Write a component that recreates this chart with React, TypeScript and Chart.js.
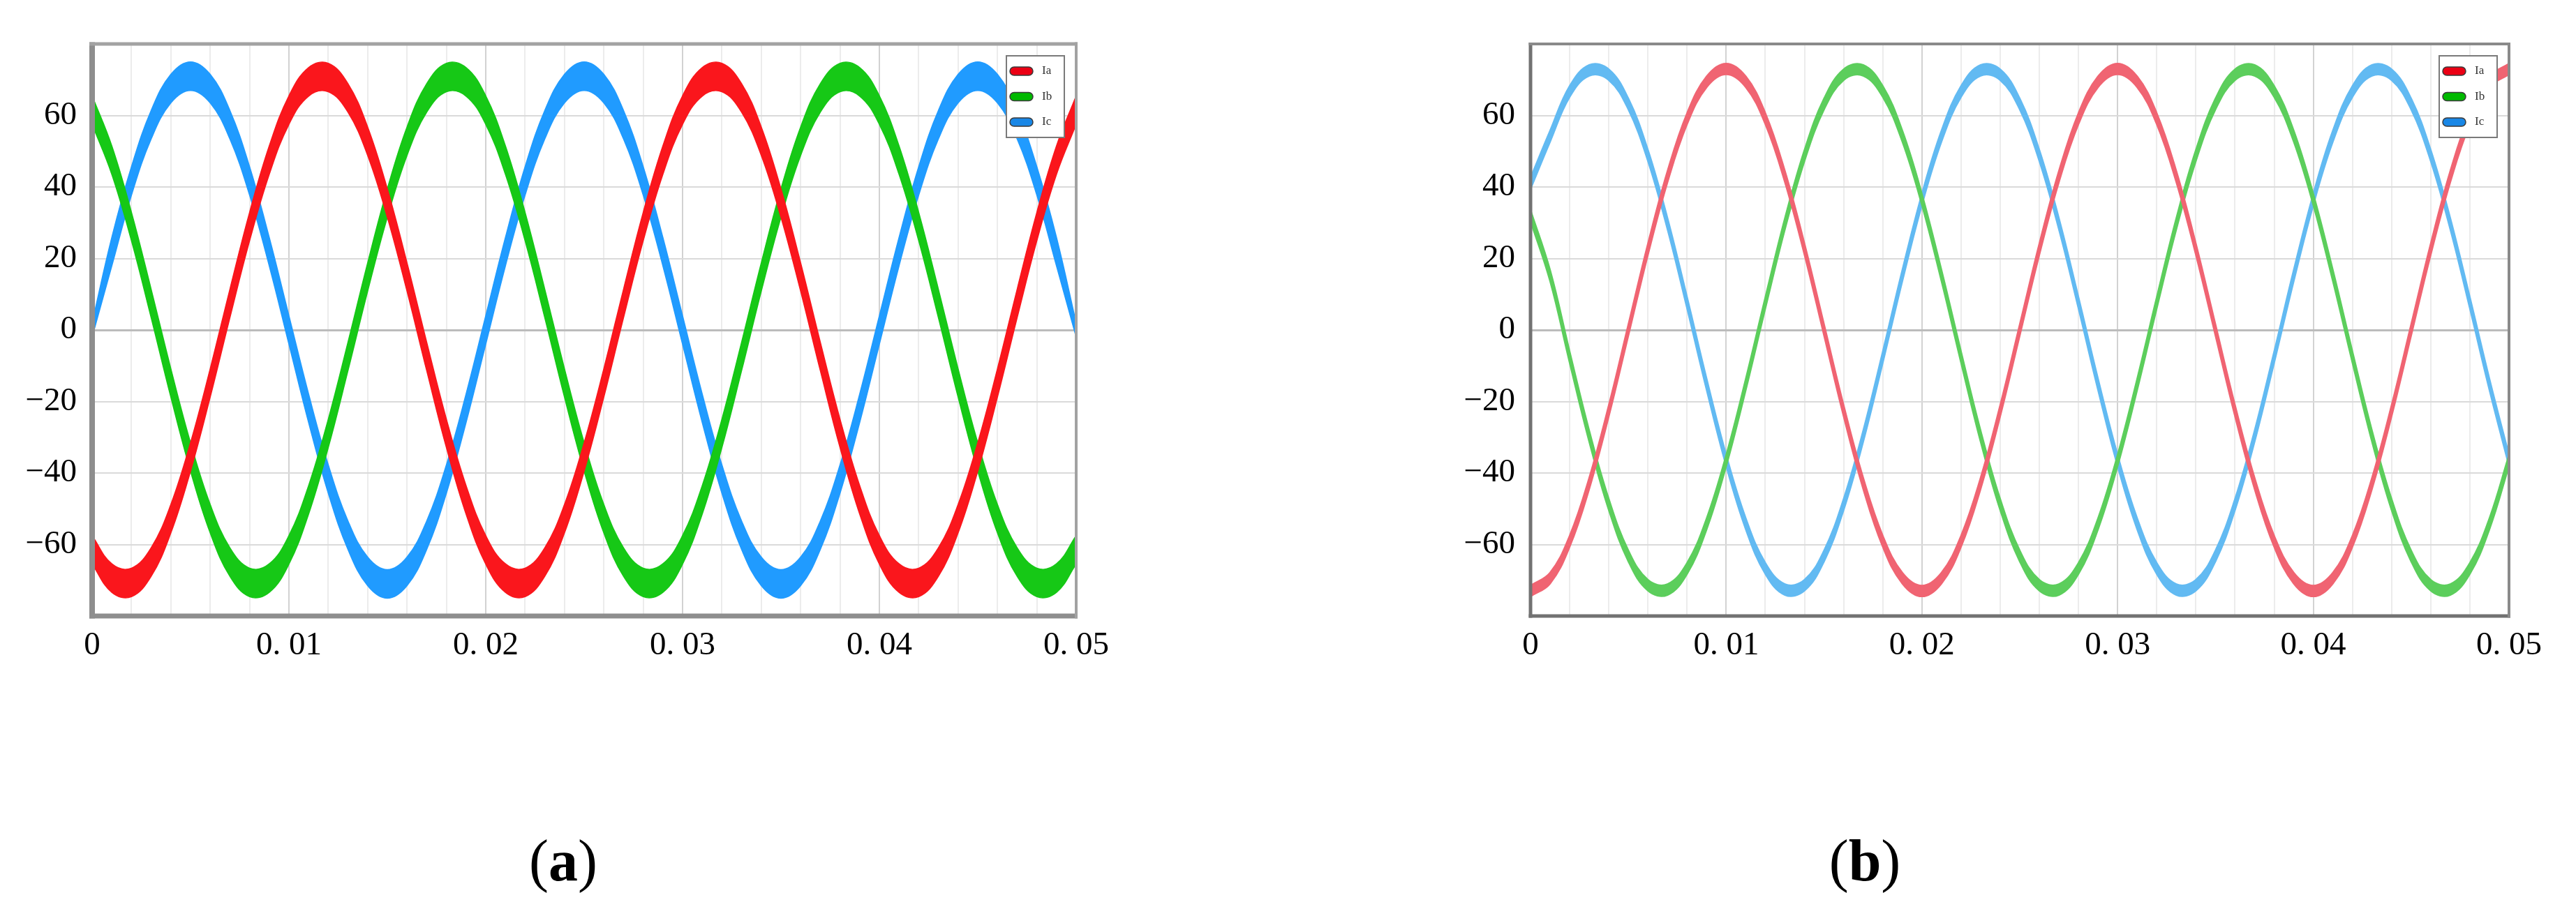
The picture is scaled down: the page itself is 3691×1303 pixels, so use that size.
import React, { useEffect, useRef } from 'react';
import { Chart, registerables } from 'chart.js';

Chart.register(...registerables);

// ---------- data ----------
const TIME = [
  0, 0.001, 0.002, 0.003, 0.004, 0.005, 0.006, 0.007, 0.008, 0.009,
  0.01, 0.011, 0.012, 0.013, 0.014, 0.015, 0.016, 0.017, 0.018, 0.019,
  0.02, 0.021, 0.022, 0.023, 0.024, 0.025, 0.026, 0.027, 0.028, 0.029,
  0.03, 0.031, 0.032, 0.033, 0.034, 0.035, 0.036, 0.037, 0.038, 0.039,
  0.04, 0.041, 0.042, 0.043, 0.044, 0.045, 0.046, 0.047, 0.048, 0.049,
  0.05,
];

const SERIES_LABELS = ['Ia', 'Ib', 'Ic'];
const X_TICK_LABELS = ['0', '0. 01', '0. 02', '0. 03', '0. 04', '0. 05'];
const Y_TICK_VALUES = [-60, -40, -20, 0, 20, 40, 60];
const Y_TICK_LABELS = ['\u221260', '\u221240', '\u221220', '0', '20', '40', '60'];
const CAPTIONS = ['a', 'b'];

// (a) ripple envelopes
const IA_A_UPPER = [
  -57.5, -65.4, -66.6, -60.9, -48.8, -31.5, -10.8, 11.4, 32.9, 51.5, 65.5, 73.4, 74.6, 68.9, 56.8, 39.5, 18.8, -3.4, -24.9, -43.5,
  -57.5, -65.4, -66.6, -60.9, -48.8, -31.5, -10.8, 11.4, 32.9, 51.5, 65.5, 73.4, 74.6, 68.9, 56.8, 39.5, 18.8, -3.4, -24.9, -43.5,
  -57.5, -65.4, -66.6, -60.9, -48.8, -31.5, -10.8, 11.4, 32.9, 51.5, 65.5,
];
const IA_A_LOWER = [
  -65.5, -73.4, -74.6, -68.9, -56.8, -39.5, -18.8, 3.4, 24.9, 43.5, 57.5, 65.4, 66.6, 60.9, 48.8, 31.5, 10.8, -11.4, -32.9, -51.5,
  -65.5, -73.4, -74.6, -68.9, -56.8, -39.5, -18.8, 3.4, 24.9, 43.5, 57.5, 65.4, 66.6, 60.9, 48.8, 31.5, 10.8, -11.4, -32.9, -51.5,
  -65.5, -73.4, -74.6, -68.9, -56.8, -39.5, -18.8, 3.4, 24.9, 43.5, 57.5,
];
const IB_A_UPPER = [
  65.5, 51.5, 32.9, 11.4, -10.8, -31.5, -48.8, -60.9, -66.6, -65.4, -57.5, -43.5, -24.9, -3.4, 18.8, 39.5, 56.8, 68.9, 74.6, 73.4,
  65.5, 51.5, 32.9, 11.4, -10.8, -31.5, -48.8, -60.9, -66.6, -65.4, -57.5, -43.5, -24.9, -3.4, 18.8, 39.5, 56.8, 68.9, 74.6, 73.4,
  65.5, 51.5, 32.9, 11.4, -10.8, -31.5, -48.8, -60.9, -66.6, -65.4, -57.5,
];
const IB_A_LOWER = [
  57.5, 43.5, 24.9, 3.4, -18.8, -39.5, -56.8, -68.9, -74.6, -73.4, -65.5, -51.5, -32.9, -11.4, 10.8, 31.5, 48.8, 60.9, 66.6, 65.4,
  57.5, 43.5, 24.9, 3.4, -18.8, -39.5, -56.8, -68.9, -74.6, -73.4, -65.5, -51.5, -32.9, -11.4, 10.8, 31.5, 48.8, 60.9, 66.6, 65.4,
  57.5, 43.5, 24.9, 3.4, -18.8, -39.5, -56.8, -68.9, -74.6, -73.4, -65.5,
];
const IC_A_UPPER = [
  2, 25.9, 45.7, 61.4, 71.5, 75, 71.5, 61.4, 45.7, 25.9, 4, -17.9, -37.7, -53.4, -63.5, -67, -63.5, -53.4, -37.7, -17.9,
  4, 25.9, 45.7, 61.4, 71.5, 75, 71.5, 61.4, 45.7, 25.9, 4, -17.9, -37.7, -53.4, -63.5, -67, -63.5, -53.4, -37.7, -17.9,
  4, 25.9, 45.7, 61.4, 71.5, 75, 71.5, 61.4, 45.7, 25.9, 2,
];
const IC_A_LOWER = [
  -2, 17.9, 37.7, 53.4, 63.5, 67, 63.5, 53.4, 37.7, 17.9, -4, -25.9, -45.7, -61.4, -71.5, -75, -71.5, -61.4, -45.7, -25.9,
  -4, 17.9, 37.7, 53.4, 63.5, 67, 63.5, 53.4, 37.7, 17.9, -4, -25.9, -45.7, -61.4, -71.5, -75, -71.5, -61.4, -45.7, -25.9,
  -4, 17.9, 37.7, 53.4, 63.5, 67, 63.5, 53.4, 37.7, 17.9, -2,
];

// (b) ripple envelopes
const IA_B_UPPER = [
  -71.5, -67.9, -57.6, -41.4, -21.1, 1.5, 24.1, 44.4, 60.6, 70.9, 74.5, 70.9, 60.6, 44.4, 24.1, 1.5, -21.1, -41.4, -57.6, -67.9,
  -71.5, -67.9, -57.6, -41.4, -21.1, 1.5, 24.1, 44.4, 60.6, 70.9, 74.5, 70.9, 60.6, 44.4, 24.1, 1.5, -21.1, -41.4, -57.6, -67.9,
  -71.5, -67.9, -57.6, -41.4, -21.1, 1.5, 24.1, 44.4, 60.6, 70.9, 74.5,
];
const IA_B_LOWER = [
  -74.5, -70.9, -60.6, -44.4, -24.1, -1.5, 21.1, 41.4, 57.6, 67.9, 71.5, 67.9, 57.6, 41.4, 21.1, -1.5, -24.1, -44.4, -60.6, -70.9,
  -74.5, -70.9, -60.6, -44.4, -24.1, -1.5, 21.1, 41.4, 57.6, 67.9, 71.5, 67.9, 57.6, 41.4, 21.1, -1.5, -24.1, -44.4, -60.6, -70.9,
  -74.5, -70.9, -60.6, -44.4, -24.1, -1.5, 21.1, 41.4, 57.6, 67.9, 71.5,
];
const IB_B_UPPER = [
  33.5, 16.7, -6.1, -28.2, -47.3, -61.7, -69.9, -71.1, -65.2, -52.7, -35, -13.7, 9.1, 31.2, 50.3, 64.7, 72.9, 74.1, 68.2, 55.7,
  38, 16.7, -6.1, -28.2, -47.3, -61.7, -69.9, -71.1, -65.2, -52.7, -35, -13.7, 9.1, 31.2, 50.3, 64.7, 72.9, 74.1, 68.2, 55.7,
  38, 16.7, -6.1, -28.2, -47.3, -61.7, -69.9, -71.1, -65.2, -52.7, -35,
];
const IB_B_LOWER = [
  30.5, 13.7, -9.1, -31.2, -50.3, -64.7, -72.9, -74.1, -68.2, -55.7, -38, -16.7, 6.1, 28.2, 47.3, 61.7, 69.9, 71.1, 65.2, 52.7,
  35, 13.7, -9.1, -31.2, -50.3, -64.7, -72.9, -74.1, -68.2, -55.7, -38, -16.7, 6.1, 28.2, 47.3, 61.7, 69.9, 71.1, 65.2, 52.7,
  35, 13.7, -9.1, -31.2, -50.3, -64.7, -72.9, -74.1, -68.2, -55.7, -38,
];
const IC_B_UPPER = [
  42.5, 55.7, 68.2, 74.1, 72.9, 64.7, 50.3, 31.2, 9.1, -13.7, -35, -52.7, -65.2, -71.1, -69.9, -61.7, -47.3, -28.2, -6.1, 16.7,
  38, 55.7, 68.2, 74.1, 72.9, 64.7, 50.3, 31.2, 9.1, -13.7, -35, -52.7, -65.2, -71.1, -69.9, -61.7, -47.3, -28.2, -6.1, 16.7,
  38, 55.7, 68.2, 74.1, 72.9, 64.7, 50.3, 31.2, 9.1, -13.7, -35,
];
const IC_B_LOWER = [
  39.5, 52.7, 65.2, 71.1, 69.9, 61.7, 47.3, 28.2, 6.1, -16.7, -38, -55.7, -68.2, -74.1, -72.9, -64.7, -50.3, -31.2, -9.1, 13.7,
  35, 52.7, 65.2, 71.1, 69.9, 61.7, 47.3, 28.2, 6.1, -16.7, -38, -55.7, -68.2, -74.1, -72.9, -64.7, -50.3, -31.2, -9.1, 13.7,
  35, 52.7, 65.2, 71.1, 69.9, 61.7, 47.3, 28.2, 6.1, -16.7, -38,
];

// ---------- styling ----------
const FONT = "'Liberation Serif', 'Times New Roman', serif";
const A_COLORS = ['rgb(250,22,28)', 'rgb(22,200,22)', 'rgb(32,155,255)'];
const B_COLORS = ['rgb(240,100,114)', 'rgb(92,206,92)', 'rgb(98,186,242)'];
const LEGEND_COLORS = ['rgb(235,0,20)', 'rgb(0,185,0)', 'rgb(25,135,230)'];

type Band = { label: string; upper: number[]; lower: number[]; color: string; legend: string };

const framePlugin = {
  id: 'frame',
  afterDraw(chart: any, _args: any, opts: any) {
    const { ctx, chartArea } = chart;
    const { left, right, top, bottom } = chartArea;
    ctx.save();
    ctx.fillStyle = opts.color;
    ctx.fillRect(left - opts.left / 2, top - opts.top / 2, opts.left, bottom - top + opts.top / 2 + opts.bottom / 2);
    ctx.fillRect(left - opts.left / 2, bottom - opts.bottom / 2, right - left + opts.left / 2 + opts.right / 2, opts.bottom);
    ctx.fillStyle = opts.lightColor;
    ctx.fillRect(left - opts.left / 2, top - opts.top / 2, right - left + opts.left / 2 + opts.right / 2, opts.top);
    ctx.fillRect(right - opts.right / 2, top - opts.top / 2, opts.right, bottom - top + opts.top / 2 + opts.bottom / 2);
    ctx.restore();
  },
};

const legendBoxPlugin = {
  id: 'legendBox',
  afterDatasetsDraw(chart: any, _args: any, opts: any) {
    const { ctx, chartArea } = chart;
    const items = chart.data.datasets.filter((d: any) => d.label);
    const x = chartArea.right - opts.right - opts.width;
    const y = chartArea.top + opts.top;
    ctx.save();
    ctx.fillStyle = '#ffffff';
    ctx.fillRect(x, y, opts.width, opts.height);
    ctx.strokeStyle = '#7a7a7a';
    ctx.lineWidth = 2;
    ctx.strokeRect(x, y, opts.width, opts.height);
    ctx.font = `${opts.fontSize}px ${FONT}`;
    ctx.textBaseline = 'middle';
    ctx.textAlign = 'left';
    items.forEach((d: any, i: number) => {
      const cy = y + opts.rowStart + i * opts.rowGap;
      const sx = x + opts.swatchX;
      const h = opts.swatchH;
      ctx.beginPath();
      ctx.moveTo(sx + h / 2, cy - h / 2);
      ctx.lineTo(sx + opts.swatchW - h / 2, cy - h / 2);
      ctx.arc(sx + opts.swatchW - h / 2, cy, h / 2, -Math.PI / 2, Math.PI / 2);
      ctx.lineTo(sx + h / 2, cy + h / 2);
      ctx.arc(sx + h / 2, cy, h / 2, Math.PI / 2, (3 * Math.PI) / 2);
      ctx.closePath();
      ctx.fillStyle = d.legendColor;
      ctx.fill();
      ctx.strokeStyle = '#3a3a3a';
      ctx.lineWidth = 1.5;
      ctx.stroke();
      ctx.fillStyle = '#333333';
      ctx.fillText(d.label, x + opts.textX, cy);
    });
    ctx.restore();
  },
};

type PanelProps = {
  left: number;
  width: number;
  height: number;
  padLeft: number;
  padRight: number;
  bands: Band[];
  frame: any;
  bandBorder: number;
};

function ChartPanel({ left, width, height, padLeft, padRight, bands, frame, bandBorder }: PanelProps) {
  const ref = useRef<HTMLCanvasElement | null>(null);
  useEffect(() => {
    if (!ref.current) return;
    const datasets: any[] = [];
    bands.forEach((b) => {
      datasets.push({
        label: '',
        data: b.lower.map((y, i) => ({ x: TIME[i], y })),
        borderColor: b.color,
        borderWidth: bandBorder,
        pointRadius: 0,
        fill: false,
        tension: 0.4,
      });
      datasets.push({
        label: b.label,
        legendColor: b.legend,
        data: b.upper.map((y, i) => ({ x: TIME[i], y })),
        borderColor: b.color,
        backgroundColor: b.color,
        borderWidth: bandBorder,
        pointRadius: 0,
        fill: '-1',
        tension: 0.4,
      });
    });
    const chart = new Chart(ref.current, {
      type: 'line',
      data: { datasets },
      plugins: [framePlugin, legendBoxPlugin],
      options: {
        animation: false,
        responsive: false,
        devicePixelRatio: 1,
        events: [],
        layout: { padding: { left: padLeft, right: padRight, top: 63, bottom: 0 } },
        plugins: {
          legend: { display: false },
          tooltip: { enabled: false },
          frame,
          legendBox: {
            right: 17, top: 17, width: 83, height: 117,
            rowStart: 22, rowGap: 36.5, swatchX: 5, swatchW: 33, swatchH: 12,
            textX: 51, fontSize: 17,
          },
        } as any,
        scales: {
          x: {
            type: 'linear',
            min: 0,
            max: 0.05,
            afterFit: (s: any) => { s.height = 117; },
            border: { display: false },
            grid: {
              drawTicks: false,
              lineWidth: 2,
              color: (c: any) => {
                const v = c.tick ? c.tick.value : 0;
                const major = Math.abs(v * 100 - Math.round(v * 100)) < 1e-6;
                return major ? '#d2d2d2' : '#ececec';
              },
            },
            ticks: {
              stepSize: 0.002,
              autoSkip: false,
              maxTicksLimit: 100,
              maxRotation: 0,
              minRotation: 0,
              padding: 14,
              color: '#000',
              font: { family: FONT, size: 47 },
              callback: (v: any) => {
                const n = Number(v) * 100;
                const idx = Math.round(n);
                return Math.abs(n - idx) < 1e-6 ? X_TICK_LABELS[idx] : '';
              },
            },
          },
          y: {
            type: 'linear',
            min: -80,
            max: 80,
            afterFit: (s: any) => { s.width = 132; },
            border: { display: false },
            grid: {
              drawTicks: false,
              lineWidth: (c: any) => (c.tick && c.tick.value === 0 ? 3 : 2),
              color: (c: any) => (c.tick && c.tick.value === 0 ? '#bcbcbc' : '#dadada'),
            },
            ticks: {
              stepSize: 20,
              padding: 22,
              color: '#000',
              font: { family: FONT, size: 47 },
              callback: (v: any) => {
                const idx = Y_TICK_VALUES.indexOf(Number(v));
                return idx >= 0 ? Y_TICK_LABELS[idx] : '';
              },
            },
          },
        },
      } as any,
    });
    return () => chart.destroy();
  }, []);
  return (
    <canvas
      ref={ref}
      width={width}
      height={height}
      style={{ position: 'absolute', left, top: 0, width, height }}
    />
  );
}

const BANDS_A: Band[] = [
  { label: SERIES_LABELS[0], upper: IA_A_UPPER, lower: IA_A_LOWER, color: A_COLORS[0], legend: LEGEND_COLORS[0] },
  { label: SERIES_LABELS[1], upper: IB_A_UPPER, lower: IB_A_LOWER, color: A_COLORS[1], legend: LEGEND_COLORS[1] },
  { label: SERIES_LABELS[2], upper: IC_A_UPPER, lower: IC_A_LOWER, color: A_COLORS[2], legend: LEGEND_COLORS[2] },
];
const BANDS_B: Band[] = [
  { label: SERIES_LABELS[0], upper: IA_B_UPPER, lower: IA_B_LOWER, color: B_COLORS[0], legend: LEGEND_COLORS[0] },
  { label: SERIES_LABELS[1], upper: IB_B_UPPER, lower: IB_B_LOWER, color: B_COLORS[1], legend: LEGEND_COLORS[1] },
  { label: SERIES_LABELS[2], upper: IC_B_UPPER, lower: IC_B_LOWER, color: B_COLORS[2], legend: LEGEND_COLORS[2] },
];

const captionStyle = (cx: number): React.CSSProperties => ({
  position: 'absolute',
  left: cx - 150,
  top: 1192,
  width: 300,
  textAlign: 'center',
  fontFamily: FONT,
  fontSize: 84,
  lineHeight: '84px',
  color: '#000',
});

export default function App() {
  return (
    <div style={{ position: 'absolute', left: 0, top: 0, width: 3691, height: 1303, background: '#fff', overflow: 'hidden' }}>
      <ChartPanel
        left={0}
        width={1700}
        height={1000}
        padLeft={0}
        padRight={158}
        bands={BANDS_A}
        bandBorder={1.5}
        frame={{ color: '#8e8e8e', lightColor: '#a2a2a2', left: 8, bottom: 7, top: 5, right: 4 }}
      />
      <ChartPanel
        left={1900}
        width={1791}
        height={1000}
        padLeft={161}
        padRight={96}
        bands={BANDS_B}
        bandBorder={2.5}
        frame={{ color: '#727272', lightColor: '#8a8a8a', left: 5, bottom: 5, top: 4, right: 4 }}
      />
      <div style={captionStyle(807)}>(<b>{CAPTIONS[0]}</b>)</div>
      <div style={captionStyle(2672)}>(<b>{CAPTIONS[1]}</b>)</div>
    </div>
  );
}
